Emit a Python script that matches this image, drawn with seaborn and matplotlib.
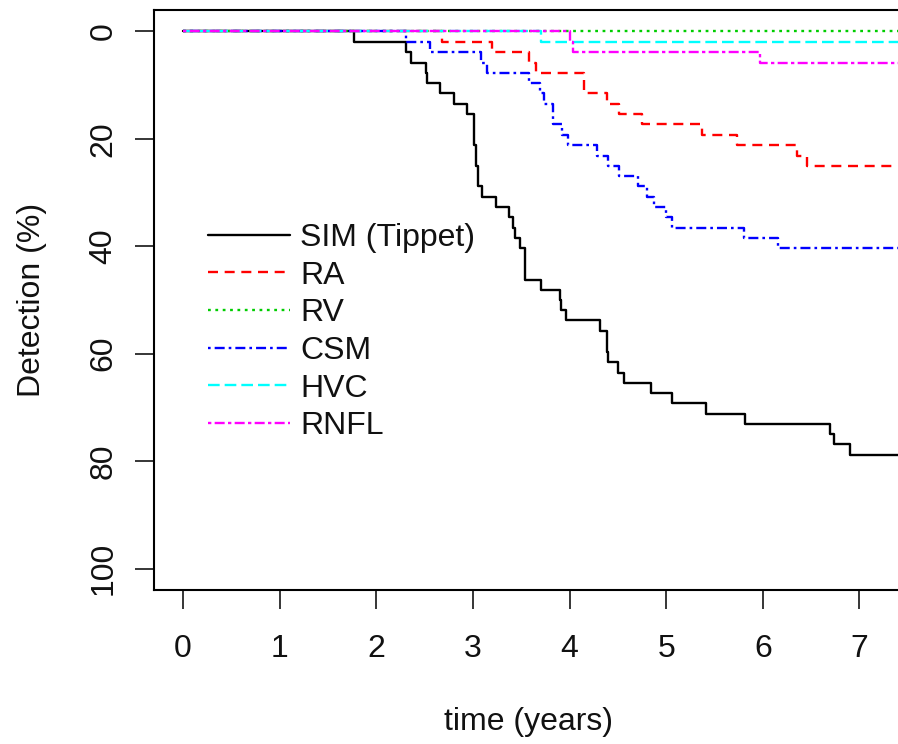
import matplotlib
matplotlib.use("Agg")
import matplotlib.pyplot as plt
import seaborn as sns
import pandas as pd

# Event times (years) and cumulative detection (%) for each method
sim_t = [0, 1.77, 2.31, 2.36, 2.51, 2.53, 2.66, 2.80, 2.94, 3.01, 3.03, 3.05, 3.09,
         3.24, 3.37, 3.41, 3.44, 3.49, 3.54, 3.70, 3.90, 3.91, 3.96, 4.31, 4.39,
         4.40, 4.50, 4.56, 4.84, 5.06, 5.41, 5.82, 6.70, 6.74, 6.90, 7.5]
sim_y = [0, 1.9, 3.8, 5.8, 7.7, 9.6, 11.5, 13.5, 15.4, 21.2, 25.0, 28.8, 30.8,
         32.7, 34.6, 36.5, 38.5, 40.4, 46.2, 48.1, 50.0, 51.9, 53.8, 55.8, 59.6,
         61.5, 63.5, 65.4, 67.3, 69.2, 71.2, 73.1, 75.0, 76.9, 78.8, 78.8]

ra_t = [0, 2.68, 3.20, 3.58, 3.65, 4.15, 4.39, 4.51, 4.75, 5.37, 5.73, 6.35, 6.46, 7.5]
ra_y = [0, 1.9, 3.8, 5.8, 7.7, 11.5, 13.5, 15.4, 17.3, 19.2, 21.2, 23.1, 25.0, 25.0]

rv_t = [0, 7.5]
rv_y = [0, 0]

csm_t = [0, 2.31, 2.56, 3.08, 3.15, 3.58, 3.69, 3.74, 3.83, 3.92, 3.98, 4.28, 4.40,
         4.51, 4.71, 4.80, 4.87, 5.00, 5.06, 5.80, 6.16, 7.5]
csm_y = [0, 1.9, 3.8, 5.8, 7.7, 9.6, 11.5, 13.5, 17.3, 19.2, 21.2, 23.1, 25.0,
         26.9, 28.8, 30.8, 32.7, 34.6, 36.5, 38.5, 40.4, 40.4]

hvc_t = [0, 3.70, 7.5]
hvc_y = [0, 1.9, 1.9]

rnfl_t = [0, 4.00, 4.04, 5.97, 7.5]
rnfl_y = [0, 1.9, 3.8, 5.8, 5.8]

labels = ["SIM (Tippet)", "RA", "RV", "CSM", "HVC", "RNFL"]
colors = ["black", "#ff0000", "#00cd00", "#0000ff", "#00ffff", "#ff00ff"]
# on/off dash lengths in points
dash_styles = ["-", (0, (7.2, 4.8)), (0, (2.0, 3.3)), (0, (1.9, 2.9, 7.2, 2.9)),
               (0, (8.4, 3.6)), (0, (2.4, 2.4, 7.2, 2.4))]

series = [(sim_t, sim_y), (ra_t, ra_y), (rv_t, rv_y),
          (csm_t, csm_y), (hvc_t, hvc_y), (rnfl_t, rnfl_y)]

sns.set_style("white")
plt.rcParams["font.family"] = ["Liberation Sans", "DejaVu Sans"]
plt.rcParams["lines.scale_dashes"] = False

FS = 23
TXT = "#111111"

W, H = 898, 744
# plot box in pixels: left, right, top, bottom (right side runs past the canvas)
BL, BR, BT, BB = 154, 902, 10, 590

fig = plt.figure(figsize=(W / 100, H / 100), dpi=100)
ax = fig.add_axes([BL / W, (H - BB) / H, (BR - BL) / W, (BB - BT) / H])

for (t, y), lab, col, ls in zip(series, labels, colors, dash_styles):
    df = pd.DataFrame({"time": t, "detection": y})
    sns.lineplot(data=df, x="time", y="detection", ax=ax, estimator=None,
                 drawstyle="steps-post", color=col, linestyle=ls,
                 linewidth=1.7, label=lab, legend=False)

ax.set_xlim(-0.3, 7.44)
ax.set_ylim(104, -4)
ax.set_xticks(range(0, 8))
ax.set_yticks([0, 20, 40, 60, 80, 100])

for s in ax.spines.values():
    s.set_color("black")
    s.set_linewidth(1.5)

ax.tick_params(axis="both", which="major", direction="out", length=13.5,
               width=1.1, color="black", labelsize=FS, labelcolor=TXT,
               left=True, bottom=True)
ax.tick_params(axis="x", pad=18)
ax.tick_params(axis="y", pad=12)
plt.setp(ax.get_yticklabels(), rotation=90, va="center")

ax.set_xlabel("time (years)", fontsize=FS, color=TXT, va="center")
ax.set_ylabel("Detection (%)", fontsize=FS, color=TXT, va="center")
ax.xaxis.set_label_coords(0.5, -(722 - BB) / (BB - BT))
ax.yaxis.set_label_coords((32 - BL) / (BR - BL), 0.5)

handles = ax.get_lines()
ax.legend(handles=handles, labels=labels, frameon=False, fontsize=FS,
          loc="upper left", bbox_to_anchor=(208 / W, 1 - 223 / H),
          bbox_transform=fig.transFigure, handlelength=2.57,
          handletextpad=0.31, labelspacing=0.24, borderpad=0, borderaxespad=0)
for txt in ax.get_legend().get_texts():
    txt.set_color(TXT)

fig.savefig("out.png", dpi=100)
